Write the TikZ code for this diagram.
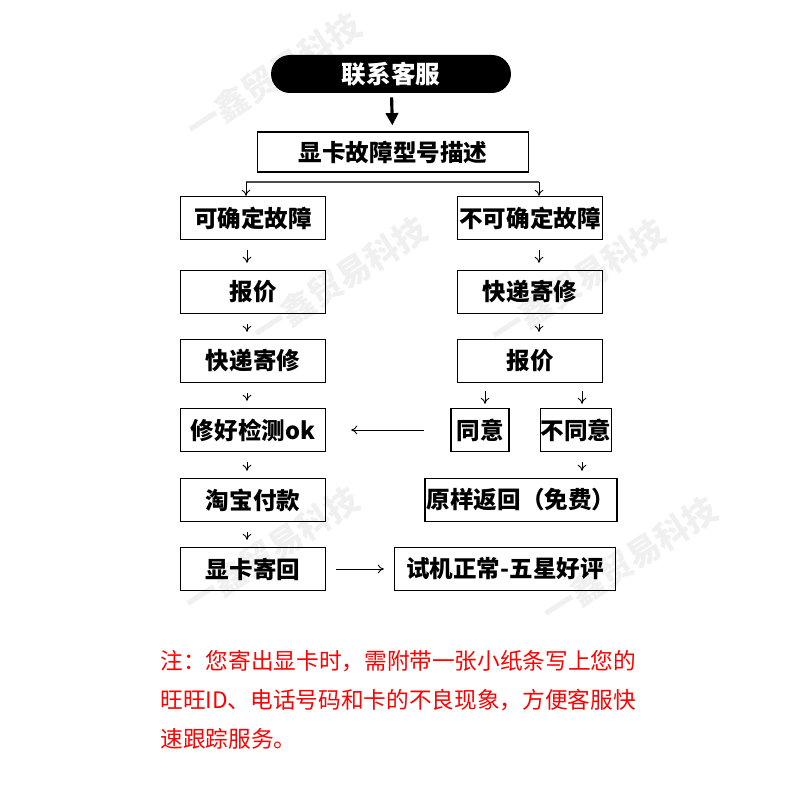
\documentclass[tikz,border=0pt]{standalone}
\usepackage{fontspec}
\setmainfont{Noto Sans CJK SC}
\usetikzlibrary{arrows.meta}

\begin{document}
\begin{tikzpicture}[x=0.02cm,y=-0.02cm,
  box/.style={draw,line width=0.7pt,minimum width=2.9cm,minimum height=0.86cm,inner sep=0pt,font=\fontsize{13.4}{16}\selectfont\bfseries},
  arr/.style={-{To[length=3.5pt,width=5pt]},line width=0.5pt},
  down/.style={arr,shorten <=0.2cm,shorten >=0.14cm},
  wmark/.style={text=black!6,font=\fontsize{19}{20}\selectfont\bfseries,rotate=33,inner sep=0pt}]
\useasboundingbox[fill=white] (0,0) rectangle (800,800);
% watermark
\node[wmark] (wm1) at (274,76) {一鑫贸易科技};
\node[wmark] (wm2) at (340,280) {一鑫贸易科技};
\node[wmark] (wm3) at (578,282) {一鑫贸易科技};
\node[wmark] (wm4) at (272,550) {一鑫贸易科技};
\node[wmark] (wm5) at (630,560) {一鑫贸易科技};
% top
\node[fill=black,rounded corners=0.38cm,minimum width=4.8cm,minimum height=0.76cm,inner sep=0pt,text=white,font=\fontsize{14}{16}\selectfont\bfseries] (call) at (391,74) {联系客服};
\node[box,minimum width=5.42cm,minimum height=0.8cm] (desc) at (393,152) {显卡故障型号描述};
\draw[-{Triangle[length=7pt,width=7pt]},line width=1.8pt,shorten <=0.08cm,shorten >=0.12cm] (call) -- (desc);
% left column
\node[box] (sure) at (253,218) {可确定故障};
\node[box] (quote1) at (253,292) {报价};
\node[box] (ship1) at (253,361) {快递寄修};
\node[box] (fixed) at (253,430) {修好检测ok};
\node[box] (pay) at (253,500) {淘宝付款};
\node[box] (sendback) at (253,569) {显卡寄回};
% right column
\node[box] (unsure) at (530,218) {不可确定故障};
\node[box] (ship2) at (530,292) {快递寄修};
\node[box] (quote2) at (530,361) {报价};
\node[box,minimum width=1.16cm] (ok) at (480,430) {同意};
\node[box,minimum width=1.4cm] (no) at (576,430) {不同意};
\node[box,minimum width=3.84cm] (back) at (521,500) {原样返回（免费）};
\node[box,minimum width=4.42cm] (good) at (505,569) {试机正常-五星好评};
% branch
\coordinate (bl) at (246,182);
\coordinate (br) at (539,182);
\draw[line width=0.6pt,black!70] (bl) -- (br);
\draw[arr] (bl) -- (bl |- sure.north);
\draw[arr] (br) -- (br |- unsure.north);
% arrows
\draw[down] ([xshift=-0.12cm]sure.south) -- ([xshift=-0.12cm]quote1.north);
\draw[down] ([xshift=-0.12cm]quote1.south) -- ([xshift=-0.12cm]ship1.north);
\draw[down] ([xshift=-0.12cm]ship1.south) -- ([xshift=-0.12cm]fixed.north);
\draw[down] ([xshift=-0.12cm]fixed.south) -- ([xshift=-0.12cm]pay.north);
\draw[down] ([xshift=-0.12cm]pay.south) -- ([xshift=-0.12cm]sendback.north);
\draw[down] ([xshift=0.18cm]unsure.south) -- ([xshift=0.18cm]ship2.north);
\draw[down] ([xshift=0.18cm]ship2.south) -- ([xshift=0.18cm]quote2.north);
\draw[arr,shorten <=0.16cm,shorten >=0.08cm] ([xshift=0.1cm]ok.north |- quote2.south) -- ([xshift=0.1cm]ok.north);
\draw[arr,shorten <=0.16cm,shorten >=0.08cm] ([xshift=0.12cm]no.north |- quote2.south) -- ([xshift=0.12cm]no.north);
\draw[down] ([xshift=0.12cm]no.south) -- ([xshift=0.12cm]no.south |- back.north);
\draw[arr,shorten <=0.52cm,shorten >=0.5cm] (ok.west) -- (ok.west -| fixed.east);
\draw[arr,shorten <=0.2cm,shorten >=0.2cm] (sendback.east) -- (sendback.east -| good.west);
% note
\node[anchor=base west,inner sep=0pt,text=red,font=\fontsize{12.9}{16}\selectfont] (note1) at (160,669) {注：您寄出显卡时，需附带一张小纸条写上您的};
\node[anchor=base west,inner sep=0pt,text=red,font=\fontsize{12.9}{16}\selectfont] (note2) at (160,708) {旺旺ID、电话号码和卡的不良现象，方便客服快};
\node[anchor=base west,inner sep=0pt,text=red,font=\fontsize{12.9}{16}\selectfont] (note3) at (160,747) {速跟踪服务。};
\end{tikzpicture}
\end{document}
